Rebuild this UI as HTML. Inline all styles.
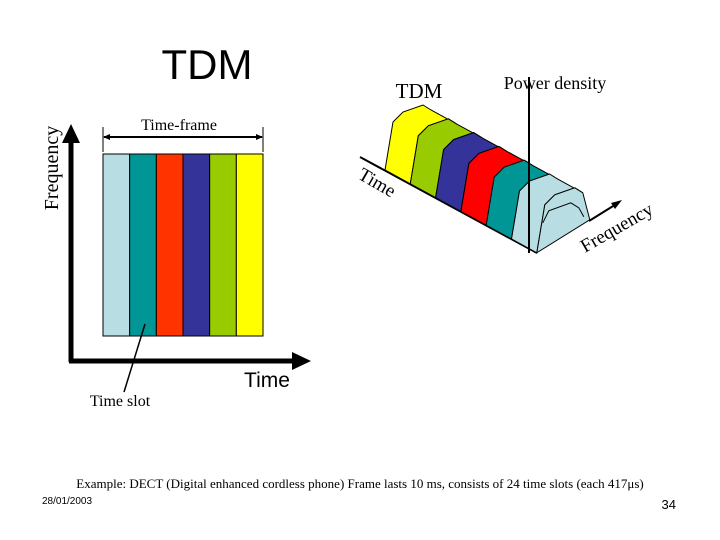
<!DOCTYPE html>
<html><head><meta charset="utf-8"><style>
body{margin:0;background:#fff;}
svg{display:block;font-family:"Liberation Serif",serif;}
</style></head><body>
<svg width="720" height="540" viewBox="0 0 720 540">
<text x="207" y="79" font-family="Liberation Sans, sans-serif" font-size="42" text-anchor="middle">TDM</text>
<text transform="translate(58,168) rotate(-90)" font-size="20" text-anchor="middle">Frequency</text>
<line x1="71" y1="362" x2="71" y2="135" stroke="#000" stroke-width="5"/>
<polygon points="71,124 62,143 80,143" fill="#000"/>
<line x1="69" y1="361" x2="300" y2="361" stroke="#000" stroke-width="5"/>
<polygon points="311,361 292,352 292,370" fill="#000"/>
<text x="267" y="387" font-size="21" text-anchor="middle" font-family="Liberation Sans, sans-serif">Time</text>
<text x="179" y="130" font-size="16" text-anchor="middle">Time-frame</text>
<line x1="103" y1="127" x2="103" y2="152" stroke="#000"/>
<line x1="263" y1="127" x2="263" y2="152" stroke="#000"/>
<line x1="104" y1="137" x2="262" y2="137" stroke="#000" stroke-width="2"/>
<polygon points="103,137 110,134 110,140" fill="#000"/><polygon points="263,137 256,134 256,140" fill="#000"/>
<g id="slots"></g>
<line x1="145" y1="324" x2="124" y2="392" stroke="#000" stroke-width="1.5"/>
<text x="120" y="406" font-size="16" text-anchor="middle">Time slot</text>
<text x="419" y="98" font-size="21" text-anchor="middle">TDM</text>
<text x="555" y="89" font-size="18" text-anchor="middle">Power density</text>
<line x1="360" y1="157" x2="537" y2="253" stroke="#000" stroke-width="2"/>
<g id="slabs"></g>
<line x1="529" y1="77" x2="529" y2="253" stroke="#000" stroke-width="2"/>
<line x1="589" y1="221" x2="618" y2="203" stroke="#000" stroke-width="2"/>
<polygon points="622,200 611,203 615,209" fill="#000"/>
<text transform="translate(357,178) rotate(30)" font-size="19">Time</text>
<text transform="translate(585,253) rotate(-30)" font-size="19">Frequency</text>
<text x="360" y="488" font-size="13" text-anchor="middle">Example: DECT (Digital enhanced cordless phone) Frame lasts 10 ms, consists of 24 time slots (each 417μs)</text>
<text x="42" y="504" font-size="10" font-family="Liberation Sans, sans-serif">28/01/2003</text>
<text x="676" y="509" font-size="13" font-family="Liberation Sans, sans-serif" text-anchor="end">34</text>
</svg>
<script>
const slotColors=["#b8dde2","#009696","#ff3300","#333399","#99cc00","#ffff00"];
const slabColors=["#ffff00","#99cc00","#333399","#ff0000","#009696","#b8dde2"];
const NS="http://www.w3.org/2000/svg";
const g=document.getElementById('slots');
const x0=103,x1=263,yT=154,yB=336,w=(x1-x0)/slotColors.length;
slotColors.forEach((c,i)=>{const r=document.createElementNS(NS,'rect');
r.setAttribute('x',x0+i*w);r.setAttribute('y',yT);r.setAttribute('width',w);r.setAttribute('height',yB-yT);
r.setAttribute('fill',c);r.setAttribute('stroke','#000');r.setAttribute('stroke-width','1');


g.appendChild(r);});
const sg=document.getElementById('slabs');
const bx=(t)=>[385+t*25.3,170+t*13.8];
const prof=[[8,-48],[18,-58],[38,-65],[46,-60]];
const pstr=a=>a.map(q=>q[0].toFixed(1)+','+q[1].toFixed(1)).join(' ');
slabColors.forEach((c,i)=>{
 const [ax,ay]=bx(i);const [cx,cy]=bx(i+1);
 const pts=[[ax,ay]].concat(prof.map(q=>[ax+q[0],ay+q[1]]),prof.slice().reverse().map(q=>[cx+q[0],cy+q[1]]),[[cx,cy]]);
 const p=document.createElementNS(NS,'polygon');
 p.setAttribute('points',pstr(pts));
 p.setAttribute('fill',c);p.setAttribute('stroke','#000');p.setAttribute('stroke-width','1');
 
 
 sg.appendChild(p);
 if(i===slabColors.length-1){
  const fp=[[cx,cy]].concat(prof.map(q=>[cx+q[0],cy+q[1]]),[[cx+53,cy-33]]);
  const f=document.createElementNS(NS,'polygon');
  f.setAttribute('points',pstr(fp));
  f.setAttribute('fill',c);f.setAttribute('stroke','#000');
  
  
  sg.appendChild(f);
  const l=document.createElementNS(NS,'polyline');
  l.setAttribute('points',pstr([[cx+6,cy-30],[cx+12,cy-42],[cx+34,cy-50],[cx+42,cy-45],[cx+47,cy-36]]));
  l.setAttribute('fill','none');l.setAttribute('stroke','#000');
  
  
  sg.appendChild(l);
 }
});
</script>
</body></html>
